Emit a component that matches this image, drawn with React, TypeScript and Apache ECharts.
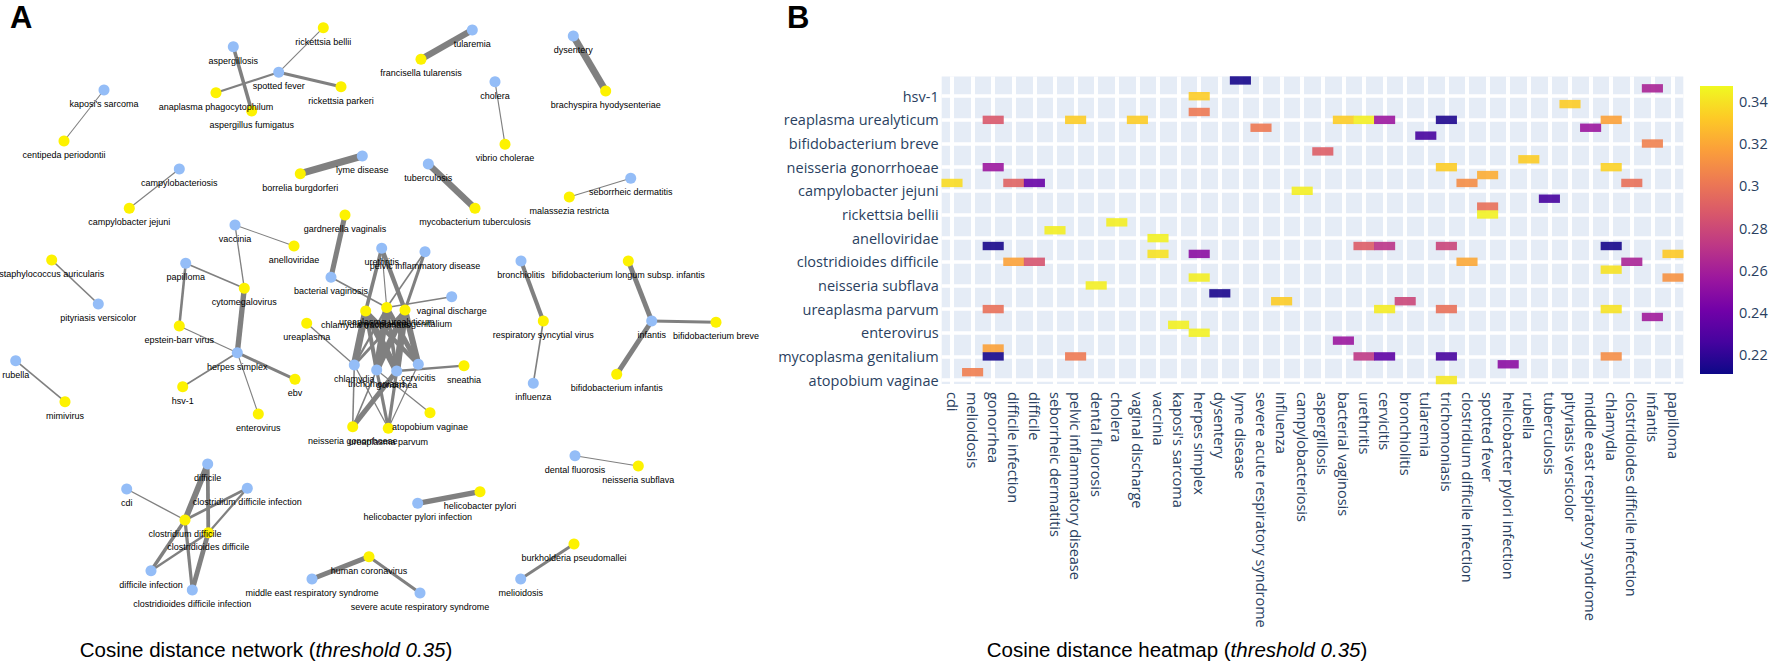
import React, { useEffect, useRef } from 'react';
import * as echarts from 'echarts';

// ---------- data ----------
const diseases = [
  'cdi', 'melioidosis', 'gonorrhea', 'difficile infection', 'difficile', 'seborrheic dermatitis',
  'pelvic inflammatory disease', 'dental fluorosis', 'cholera', 'vaginal discharge', 'vaccinia',
  "kaposi's sarcoma", 'herpes simplex', 'dysentery', 'lyme disease', 'severe acute respiratory syndrome',
  'influenza', 'campylobacteriosis', 'aspergillosis', 'bacterial vaginosis', 'urethritis', 'cervicitis',
  'bronchiolitis', 'tularemia', 'trichomoniasis', 'clostridium difficile infection', 'spotted fever',
  'helicobacter pylori infection', 'rubella', 'tuberculosis', 'pityriasis versicolor',
  'middle east respiratory syndrome', 'chlamydia', 'clostridioides difficile infection', 'infantis', 'papilloma',
];
// network layout positions of the disease nodes
const diseaseX = [126.7, 520.7, 396.7, 151, 207.7, 630.7, 425, 575, 495, 451.7, 235, 104, 237.3, 573.3, 362.3, 420,
  533.3, 179.3, 233.3, 331, 381.7, 418.3, 521, 472.3, 376.7, 247.3, 278.7, 417.7, 15.7, 428.3, 98.3, 312, 354.3, 192.3, 651.7, 185.7];
const diseaseY = [489, 579, 371, 570.7, 464, 178.3, 251.7, 455.7, 81.7, 296.7, 225, 90, 352.7, 36, 156, 593,
  383.3, 169, 46.7, 277.3, 248.3, 364.3, 261, 30, 370, 488.3, 72.3, 503.3, 360.7, 164, 304, 579, 365, 590, 321, 263.3];

// heatmap rows, bottom to top
const pathogens = [
  'atopobium vaginae', 'burkholderia pseudomallei', 'helicobacter pylori', 'mycoplasma genitalium', 'sneathia',
  'gardnerella vaginalis', 'enterovirus', 'centipeda periodontii', 'bifidobacterium infantis', 'ureaplasma parvum',
  'respiratory syncytial virus', 'brachyspira hyodysenteriae', 'neisseria subflava', 'epstein-barr virus', 'ureaplasma',
  'clostridioides difficile', 'cytomegalovirus', 'chlamydia trachomatis', 'anelloviridae', 'malassezia restricta',
  'vibrio cholerae', 'rickettsia bellii', 'rickettsia parkeri', 'mycobacterium tuberculosis', 'campylobacter jejuni',
  'clostridium difficile', 'anaplasma phagocytophilum', 'neisseria gonorrhoeae', 'mimivirus', 'aspergillus fumigatus',
  'bifidobacterium breve', 'francisella tularensis', 'human coronavirus', 'ureaplasma urealyticum', 'ebv',
  'staphylococcus auricularis', 'hsv-1', 'bifidobacterium longum subsp. infantis', 'borrelia burgdorferi',
];
const pathogenX = [430, 574, 480, 405, 464, 345, 258.3, 64, 616.7, 388.3, 543.3, 605.7, 638.3, 179.3, 306.7, 208.3,
  244.3, 365.7, 294, 569.3, 505, 323.3, 341, 475, 129.3, 185, 216, 352.7, 65, 251.7, 716, 421, 369, 386.7, 295, 51.7,
  182.7, 628.3, 300.3];
const pathogenY = [412.7, 544, 491.7, 310, 365.7, 215, 414, 141, 374.3, 428.3, 321, 91, 466, 326, 323.3, 532.7,
  288.3, 311, 246, 197, 144.3, 27.7, 86.7, 208.3, 208.3, 520, 92.7, 426.7, 401.7, 111, 322.3, 59.3, 556.7, 307.5, 379.3,
  260, 386.7, 261, 173.7];

// cosine distances below threshold 0.35: [disease, pathogen, distance]
const links: [string, string, number][] = [
  ['lyme disease', 'borrelia burgdorferi', 0.213],
  ['herpes simplex', 'hsv-1', 0.333],
  ['herpes simplex', 'ebv', 0.302],
  ['gonorrhea', 'ureaplasma urealyticum', 0.287],
  ['pelvic inflammatory disease', 'ureaplasma urealyticum', 0.333],
  ['vaginal discharge', 'ureaplasma urealyticum', 0.333],
  ['severe acute respiratory syndrome', 'human coronavirus', 0.302],
  ['gonorrhea', 'neisseria gonorrhoeae', 0.256],
  ['cdi', 'clostridium difficile', 0.338],
  ['difficile infection', 'clostridium difficile', 0.292],
  ['difficile', 'clostridium difficile', 0.237],
  ['campylobacteriosis', 'campylobacter jejuni', 0.344],
  ['cholera', 'vibrio cholerae', 0.344],
  ['seborrheic dermatitis', 'malassezia restricta', 0.344],
  ['vaccinia', 'anelloviridae', 0.345],
  ['gonorrhea', 'chlamydia trachomatis', 0.213],
  ['vaccinia', 'cytomegalovirus', 0.34],
  ['herpes simplex', 'cytomegalovirus', 0.25],
  ['difficile infection', 'clostridioides difficile', 0.318],
  ['difficile', 'clostridioides difficile', 0.285],
  ['herpes simplex', 'epstein-barr virus', 0.344],
  ['dental fluorosis', 'neisseria subflava', 0.344],
  ['dysentery', 'brachyspira hyodysenteriae', 0.214],
  ['influenza', 'respiratory syncytial virus', 0.333],
  ['gonorrhea', 'ureaplasma parvum', 0.298],
  ["kaposi's sarcoma", 'centipeda periodontii', 0.345],
  ['herpes simplex', 'enterovirus', 0.345],
  ['gonorrhea', 'sneathia', 0.318],
  ['gonorrhea', 'mycoplasma genitalium', 0.213],
  ['pelvic inflammatory disease', 'mycoplasma genitalium', 0.302],
  ['melioidosis', 'burkholderia pseudomallei', 0.304],
  ['bacterial vaginosis', 'gardnerella vaginalis', 0.256],
  ['urethritis', 'mycoplasma genitalium', 0.272],
  ['cervicitis', 'mycoplasma genitalium', 0.234],
  ['trichomoniasis', 'mycoplasma genitalium', 0.226],
  ['helicobacter pylori infection', 'helicobacter pylori', 0.25],
  ['trichomoniasis', 'atopobium vaginae', 0.342],
  ['bronchiolitis', 'respiratory syncytial virus', 0.279],
  ['cervicitis', 'ureaplasma parvum', 0.343],
  ['trichomoniasis', 'ureaplasma parvum', 0.298],
  ['pityriasis versicolor', 'staphylococcus auricularis', 0.333],
  ['bacterial vaginosis', 'ureaplasma urealyticum', 0.333],
  ['urethritis', 'ureaplasma urealyticum', 0.344],
  ['cervicitis', 'ureaplasma urealyticum', 0.256],
  ['trichomoniasis', 'ureaplasma urealyticum', 0.215],
  ['tularemia', 'francisella tularensis', 0.226],
  ['middle east respiratory syndrome', 'human coronavirus', 0.256],
  ['aspergillosis', 'aspergillus fumigatus', 0.29],
  ['rubella', 'mimivirus', 0.333],
  ['trichomoniasis', 'neisseria gonorrhoeae', 0.333],
  ['spotted fever', 'anaplasma phagocytophilum', 0.322],
  ['clostridium difficile infection', 'clostridium difficile', 0.31],
  ['tuberculosis', 'mycobacterium tuberculosis', 0.226],
  ['spotted fever', 'rickettsia parkeri', 0.298],
  ['spotted fever', 'rickettsia bellii', 0.345],
  ['urethritis', 'chlamydia trachomatis', 0.289],
  ['cervicitis', 'chlamydia trachomatis', 0.27],
  ['trichomoniasis', 'chlamydia trachomatis', 0.278],
  ['clostridium difficile infection', 'clostridioides difficile', 0.32],
  ['chlamydia', 'ureaplasma urealyticum', 0.318],
  ['chlamydia', 'neisseria gonorrhoeae', 0.335],
  ['chlamydia', 'chlamydia trachomatis', 0.213],
  ['chlamydia', 'ureaplasma', 0.34],
  ['chlamydia', 'ureaplasma parvum', 0.34],
  ['chlamydia', 'mycoplasma genitalium', 0.31],
  ['clostridioides difficile infection', 'clostridium difficile', 0.298],
  ['clostridioides difficile infection', 'clostridioides difficile', 0.262],
  ['infantis', 'bifidobacterium longum subsp. infantis', 0.262],
  ['infantis', 'bifidobacterium breve', 0.305],
  ['infantis', 'bifidobacterium infantis', 0.258],
  ['papilloma', 'cytomegalovirus', 0.332],
  ['papilloma', 'epstein-barr virus', 0.312],
];

const colorbarTicks = [0.22, 0.24, 0.26, 0.28, 0.3, 0.32, 0.34];
const distMin = 0.2105;
const distMax = 0.3476;
const plasma = ['#0d0887', '#46039f', '#7201a8', '#9c179e', '#bd3786', '#d8576b', '#ed7953', '#fb9f3a', '#fdca26', '#f0f921'];
const clippedTick: Record<string, string> = { 'ureaplasma urealyticum': 'reaplasma urealyticum' };

// ---------- layout ----------
const HM = { left: 941.7, top: 76.5, width: 741.6, height: 307.5 };
const CB = { left: 1700, top: 86, width: 33, height: 288 };
const tickFont = { fontFamily: 'Open Sans', fontSize: 14.5, color: '#2a3f5f' };

function buildOption() {
  const colW = HM.width / diseases.length;
  const rowH = HM.height / pathogens.length;
  const hLineMax = 36;

  const heatData = links.map(([d, p, v]) => [diseases.indexOf(d), pathogens.indexOf(p), v]);

  const nodes = [
    ...pathogens.map((n, i) => ({ name: n, x: pathogenX[i], y: pathogenY[i], itemStyle: { color: '#fdf200' } })),
    ...diseases.map((n, i) => ({ name: n, x: diseaseX[i], y: diseaseY[i], itemStyle: { color: '#94bdf7' } })),
  ];
  const allX = [...pathogenX, ...diseaseX];
  const allY = [...pathogenY, ...diseaseY];
  const minX = Math.min(...allX), maxX = Math.max(...allX);
  const minY = Math.min(...allY), maxY = Math.max(...allY);
  const graphLinks = links.map(([d, p, v]) => ({
    source: d, target: p, lineStyle: { width: 1 + (0.347 - v) * 45 },
  }));

  const hidden = { show: false };
  const gridBase = { containLabel: false, outerBoundsMode: 'none' } as any;

  return {
    animation: false,
    backgroundColor: '#ffffff',
    textStyle: { fontFamily: 'Open Sans' },
    grid: [
      { ...gridBase, left: HM.left, top: HM.top, width: HM.width, height: HM.height, show: true, backgroundColor: '#E5ECF6', borderWidth: 0 },
      { ...gridBase, left: HM.left + colW / 2, top: HM.top, width: HM.width - colW, height: HM.height },
      { ...gridBase, left: HM.left, top: HM.top + HM.height - rowH / 2 - hLineMax * rowH, width: HM.width, height: hLineMax * rowH },
      { ...gridBase, left: CB.left, top: CB.top, width: CB.width, height: CB.height },
    ],
    xAxis: [
      {
        type: 'category', gridIndex: 0, data: diseases,
        axisLine: hidden, axisTick: hidden, splitLine: hidden,
        axisLabel: { ...tickFont, interval: 0, rotate: -90, margin: 8 },
      },
      {
        type: 'value', gridIndex: 1, min: 0, max: diseases.length - 1, interval: 1,
        axisLine: hidden, axisTick: hidden, axisLabel: hidden,
        splitLine: { show: true, lineStyle: { color: '#ffffff', width: 4 } },
      },
      { type: 'value', gridIndex: 2, show: false, min: 0, max: 1 },
      { type: 'value', gridIndex: 3, show: false, min: 0, max: 1 },
    ],
    yAxis: [
      {
        type: 'category', gridIndex: 0, data: pathogens,
        axisLine: hidden, axisTick: hidden, splitLine: hidden,
        axisLabel: { ...tickFont, interval: 2, margin: 3, formatter: (v: string) => clippedTick[v] || v },
      },
      { type: 'value', gridIndex: 1, show: false, min: 0, max: 1 },
      {
        type: 'value', gridIndex: 2, min: 0, max: hLineMax, interval: 3,
        axisLine: hidden, axisTick: hidden, axisLabel: hidden,
        splitLine: { show: true, lineStyle: { color: '#ffffff', width: 3.5 } },
      },
      {
        type: 'value', gridIndex: 3, position: 'right', min: distMin, max: distMax,
        axisLine: hidden, splitLine: hidden,
        axisTick: { show: false, customValues: colorbarTicks },
        axisLabel: {
          ...tickFont, margin: 6, customValues: colorbarTicks,
          formatter: (v: number) => String(Math.round(v * 100) / 100),
        },
      },
    ],
    visualMap: [
      {
        type: 'continuous', show: false, seriesIndex: 0, dimension: 2,
        min: distMin, max: distMax, inRange: { color: plasma },
      },
    ],
    series: [
      {
        type: 'heatmap', xAxisIndex: 0, yAxisIndex: 0, data: heatData, z: 5,
        itemStyle: { opacity: 0.9 },
        emphasis: { disabled: true },
      },
      {
        type: 'graph', layout: 'none', coordinateSystem: 'view',
        left: minX, top: minY, width: maxX - minX, height: maxY - minY,
        roam: false, symbol: 'circle', symbolSize: 11,
        data: nodes, links: graphLinks,
        lineStyle: { color: '#808080', opacity: 1, curveness: 0 },
        label: { show: true, position: 'bottom', distance: 4, fontSize: 9, color: '#000000', fontFamily: 'Liberation Sans' },
        emphasis: { disabled: true },
      },
    ],
    graphic: [
      {
        type: 'rect', z: 10,
        shape: { x: CB.left, y: CB.top, width: CB.width, height: CB.height },
        style: {
          fill: new echarts.graphic.LinearGradient(0, 0, 0, 1,
            plasma.slice().reverse().map((c, i) => ({ offset: i / (plasma.length - 1), color: c }))),
        },
      },
      {
        type: 'text', x: 10, y: 17.5, z: 10,
        style: { text: 'A', font: 'bold 31px "Liberation Sans", Arial, sans-serif', fill: '#000', textVerticalAlign: 'middle', verticalAlign: 'middle' },
      },
      {
        type: 'text', x: 787, y: 17.5, z: 10,
        style: { text: 'B', font: 'bold 31px "Liberation Sans", Arial, sans-serif', fill: '#000', textVerticalAlign: 'middle', verticalAlign: 'middle' },
      },
      {
        type: 'text', x: 266, y: 649, z: 10,
        style: {
          text: '{n|Cosine distance network (}{i|threshold 0.35}{n|)}',
          align: 'center', verticalAlign: 'middle',
          rich: {
            n: { fontSize: 20.5, fontFamily: 'Liberation Sans', fill: '#000' },
            i: { fontSize: 20.5, fontFamily: 'Liberation Sans', fontStyle: 'italic', fill: '#000' },
          },
        },
      },
      {
        type: 'text', x: 1177, y: 649, z: 10,
        style: {
          text: '{n|Cosine distance heatmap (}{i|threshold 0.35}{n|)}',
          align: 'center', verticalAlign: 'middle',
          rich: {
            n: { fontSize: 20.5, fontFamily: 'Liberation Sans', fill: '#000' },
            i: { fontSize: 20.5, fontFamily: 'Liberation Sans', fontStyle: 'italic', fill: '#000' },
          },
        },
      },
    ],
  };
}

export default function App() {
  const ref = useRef<HTMLDivElement>(null);
  useEffect(() => {
    if (!ref.current) return;
    const chart = echarts.init(ref.current, undefined, { renderer: 'svg' });
    chart.setOption(buildOption() as any);
    return () => chart.dispose();
  }, []);
  return (
    <div
      ref={ref}
      style={{ position: 'fixed', left: 0, top: 0, width: 1772, height: 669, background: '#ffffff' }}
    />
  );
}
